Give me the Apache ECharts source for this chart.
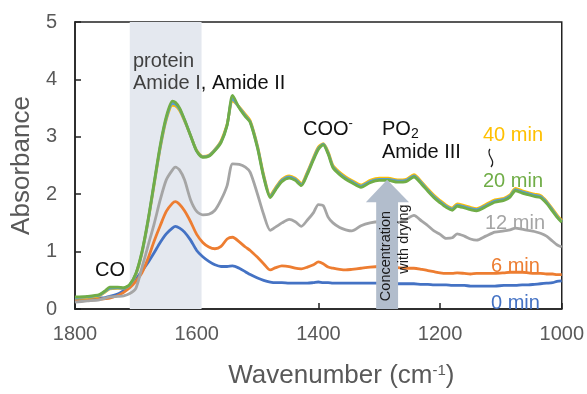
<!DOCTYPE html>
<html><head><meta charset="utf-8">
<script src="https://cdn.jsdelivr.net/npm/echarts@6/dist/echarts.min.js"></script>
<style>html,body{margin:0;padding:0;background:#fff}#c{width:587px;height:394px}</style>
</head><body><div id="c"></div>
<script>
const wavenumbers = [1800,1780,1760,1750,1743, 1730,1720,1710,1700,1690, 1680,1670,1660,1650,1640, 1635,1628,1620,1610,1600,
  1590,1580,1570,1560,1550, 1541,1530,1520,1512,1500, 1490,1479,1470,1460,1448, 1438,1428,1418,1408,1400,
  1392,1384,1376,1365,1355, 1345,1330,1315,1300,1285, 1270,1256,1243,1230,1220, 1210,1200,1190,1180,1172,
  1160,1150,1140,1125,1110, 1095,1085,1076,1065,1055, 1045,1035,1025,1015,1008, 1000];

const min0 = [0.15,0.17,0.19,0.20,0.22, 0.26,0.32,0.40,0.52,0.66, 0.81,0.98,1.16,1.31,1.41, 1.44,1.41,1.34,1.20,1.02,
  0.91,0.83,0.77,0.74,0.74, 0.75,0.71,0.65,0.60,0.54, 0.50,0.47,0.46,0.46,0.45, 0.45,0.45,0.45,0.46,0.47,
  0.46,0.46,0.45,0.45,0.45, 0.45,0.45,0.45,0.45,0.45, 0.44,0.44,0.44,0.43,0.43, 0.42,0.42,0.42,0.41,0.41,
  0.41,0.40,0.40,0.40,0.40, 0.41,0.41,0.41,0.42,0.42, 0.43,0.44,0.45,0.46,0.48, 0.49];

const min6 = [0.13,0.15,0.17,0.18,0.19, 0.23,0.29,0.37,0.48,0.63, 0.88,1.18,1.45,1.70,1.84, 1.87,1.82,1.71,1.52,1.30,
  1.16,1.08,1.05,1.09,1.22, 1.25,1.17,1.08,1.02,0.90, 0.79,0.68,0.72,0.75,0.74, 0.71,0.70,0.73,0.77,0.82,
  0.79,0.73,0.71,0.69,0.68, 0.69,0.71,0.73,0.74,0.73, 0.72,0.71,0.71,0.69,0.67, 0.65,0.63,0.62,0.62,0.63,
  0.62,0.61,0.62,0.62,0.62, 0.63,0.64,0.64,0.64,0.63, 0.62,0.62,0.61,0.61,0.60, 0.60];

const min12 = [0.12,0.14,0.16,0.19,0.21, 0.22,0.23,0.27,0.36,0.72, 1.10,1.48,1.90,2.25,2.42, 2.47,2.42,2.25,1.90,1.70,
  1.64,1.65,1.72,1.90,2.15, 2.53,2.52,2.47,2.38,2.00, 1.65,1.37,1.43,1.50,1.56, 1.52,1.44,1.55,1.68,1.82,
  1.80,1.60,1.50,1.42,1.38, 1.36,1.45,1.50,1.52,1.52, 1.50,1.56,1.63,1.53,1.45, 1.36,1.30,1.23,1.24,1.31,
  1.27,1.22,1.20,1.27,1.34, 1.36,1.38,1.41,1.39,1.37, 1.35,1.32,1.27,1.18,1.12, 1.08];

const min40 = [0.19,0.20,0.23,0.30,0.35, 0.36,0.36,0.42,0.60,0.97, 1.52,2.16,2.80,3.30,3.55, 3.54,3.46,3.28,3.02,2.76,
  2.66,2.68,2.78,2.93,3.22, 3.62,3.52,3.39,3.28,2.84, 2.34,1.98,2.12,2.26,2.32, 2.28,2.19,2.39,2.64,2.82,
  2.88,2.74,2.50,2.38,2.30, 2.24,2.16,2.24,2.28,2.28, 2.25,2.26,2.34,2.21,2.09, 1.98,1.89,1.81,1.76,1.83,
  1.80,1.77,1.75,1.82,1.90, 1.93,1.99,2.10,2.06,2.03, 2.00,1.98,1.88,1.74,1.64, 1.54];

const min30 = [0.20,0.21,0.24,0.31,0.36, 0.37,0.36,0.42,0.61,0.98, 1.53,2.18,2.82,3.32,3.58, 3.57,3.48,3.29,3.02,2.75,
  2.65,2.67,2.77,2.91,3.21, 3.66,3.51,3.37,3.26,2.82, 2.32,1.96,2.10,2.24,2.30, 2.26,2.17,2.37,2.62,2.80,
  2.87,2.72,2.48,2.36,2.28, 2.22,2.14,2.22,2.26,2.26, 2.23,2.24,2.32,2.19,2.07, 1.96,1.87,1.79,1.74,1.81,
  1.78,1.75,1.73,1.80,1.88, 1.91,1.97,2.08,2.04,2.01, 1.98,1.96,1.86,1.72,1.62, 1.52];

const min20 = [0.21,0.22,0.25,0.32,0.38, 0.38,0.37,0.43,0.62,1.00, 1.55,2.20,2.85,3.35,3.62, 3.60,3.50,3.30,3.02,2.75,
  2.64,2.66,2.76,2.90,3.20, 3.72,3.50,3.35,3.25,2.80, 2.30,1.94,2.08,2.22,2.28, 2.24,2.15,2.35,2.60,2.78,
  2.86,2.70,2.46,2.34,2.26, 2.20,2.12,2.20,2.24,2.24, 2.21,2.22,2.30,2.17,2.05, 1.94,1.85,1.77,1.72,1.79,
  1.76,1.73,1.71,1.78,1.86, 1.89,1.95,2.06,2.02,1.99, 1.96,1.94,1.84,1.70,1.60, 1.51];

const xTicks = [1800, 1600, 1400, 1200, 1000];
const yTicks = [0, 1, 2, 3, 4, 5];
const proteinBand = [1710, 1592];

const seriesDefs = [
  {name: '0 min', values: min0, color: '#4472C4'},
  {name: '6 min', values: min6, color: '#ED7D31'},
  {name: '12 min', values: min12, color: '#A5A5A5'},
  {name: '40 min', values: min40, color: '#FFC000'},
  {name: '30 min', values: min30, color: '#5B9BD5'},
  {name: '20 min', values: min20, color: '#70AD47'}
];

const FONT = '"Liberation Sans", Arial, sans-serif';
const chart = echarts.init(document.getElementById('c'), null, {renderer: 'canvas'});

const series = seriesDefs.map(s => ({
  name: s.name, type: 'line', showSymbol: false, symbol: 'none',
  smooth: 0.25, z: 3,
  lineStyle: {color: s.color, width: 2.8},
  itemStyle: {color: s.color},
  data: wavenumbers.map((w, i) => [w, s.values[i]])
}));
series.unshift({
  type: 'line', data: [], z: 1, silent: true,
  markArea: {silent: true, itemStyle: {color: '#e4e8ef'},
    data: [[{xAxis: proteinBand[0]}, {xAxis: proteinBand[1]}]]}
});

chart.setOption({
  animation: false,
  backgroundColor: '#fff',
  grid: {left: 75, right: 24, top: 22, bottom: 81, show: true, borderColor: '#222', borderWidth: 1.5, backgroundColor: 'transparent'},
  xAxis: {
    type: 'value', inverse: true, min: 1000, max: 1800, interval: 200,
    name: 'Wavenumber (cm{sup|-1})', nameLocation: 'middle', nameGap: 54,
    nameTextStyle: {fontFamily: FONT, fontSize: 26, color: '#595959', padding: [0, 0, 0, 46],
      rich: {sup: {fontSize: 15, verticalAlign: 'top', padding: [0, 0, 10, 0], color: '#595959', fontFamily: FONT}}},
    axisLine: {lineStyle: {color: '#222', width: 1.5}},
    axisTick: {inside: true, length: 6, lineStyle: {color: '#222', width: 1.5}},
    axisLabel: {fontFamily: FONT, fontSize: 20, color: '#595959', margin: 15,
      formatter: v => xTicks.includes(v) ? String(v) : ''},
    splitLine: {show: false}
  },
  yAxis: {
    type: 'value', min: 0, max: 5, interval: 1,
    name: 'Absorbance', nameLocation: 'middle', nameGap: 39,
    nameTextStyle: {fontFamily: FONT, fontSize: 26, color: '#595959'},
    axisLine: {show: true, lineStyle: {color: '#222', width: 1.5}},
    axisTick: {show: true, inside: true, length: 6, lineStyle: {color: '#222', width: 1.5}},
    axisLabel: {fontFamily: FONT, fontSize: 20, color: '#595959', margin: 18,
      formatter: v => yTicks.includes(v) ? String(v) : ''},
    splitLine: {show: false}
  },
  series: series
});

// Arrow "Concentration with drying", positioned in data coordinates
const P = (w, a) => chart.convertToPixel({gridIndex: 0}, [w, a]);
const tip = P(1287, 2.25), hl = P(1322, 1.86), hr = P(1251, 1.86),
      sl = P(1305, 1.86), sr = P(1269, 1.86), bl = P(1305, 0), br = P(1269, 0);

function label(x, y, text, fill, size) {
  return {type: 'text', x: x, y: y, z: 100,
    style: {text: text, fill: fill, font: (size || 20) + 'px ' + FONT, verticalAlign: 'middle', align: 'left'}};
}

const sx = (sl[0] + sr[0]) / 2;
chart.setOption({
  graphic: [
    {type: 'polygon', z: 50, silent: true,
      shape: {points: [tip, hr, sr, br, bl, sl, hl]},
      style: {fill: '#b2bdcc'}},
    {type: 'text', x: sx - 1, y: 256, rotation: Math.PI / 2, z: 100,
      style: {text: 'Concentration', fill: '#1a1a1a', font: '14.5px ' + FONT, align: 'center', verticalAlign: 'middle'}},
    {type: 'text', x: sx + 17, y: 239, rotation: Math.PI / 2, z: 100,
      style: {text: 'with drying', fill: '#1a1a1a', font: '14.5px ' + FONT, align: 'center', verticalAlign: 'middle'}},
    label(133, 61, 'protein', '#404040'),
    {type: 'text', x: 133, y: 83, z: 100,
      style: {text: '{g|Amide I}{b|, Amide II}', verticalAlign: 'middle', font: '20px ' + FONT,
        rich: {g: {fill: '#404040', font: '20px ' + FONT}, b: {fill: '#111', font: '20px ' + FONT}}}},
    label(95, 270, 'CO', '#111'),
    {type: 'text', x: 303, y: 129, z: 100,
      style: {text: 'COO{s|-}', verticalAlign: 'middle', fill: '#111', font: '20px ' + FONT,
        rich: {s: {fill: '#111', font: '13px ' + FONT, verticalAlign: 'top', padding: [0, 0, 12, 0]}}}},
    {type: 'text', x: 382, y: 129, z: 100,
      style: {text: 'PO{s|2}', verticalAlign: 'middle', fill: '#111', font: '20px ' + FONT,
        rich: {s: {fill: '#111', font: '14px ' + FONT, verticalAlign: 'bottom', padding: [10, 0, 0, 0]}}}},
    label(382, 152, 'Amide III', '#111'),
    label(483, 135, '40 min', '#FFC000'),
    {type: 'bezierCurve', z: 100, silent: true,
      shape: {x1: 490, y1: 149, x2: 491, y2: 167, cpx1: 485, cpy1: 155, cpx2: 497, cpy2: 160},
      style: {stroke: '#222', lineWidth: 1.3, fill: null}},
    label(483, 181, '20 min', '#70AD47'),
    label(485, 223, '12 min', '#A5A5A5'),
    label(491, 266, '6 min', '#ED7D31'),
    label(491, 303, '0 min', '#4472C4')
  ]
});
</script>
</body></html>
